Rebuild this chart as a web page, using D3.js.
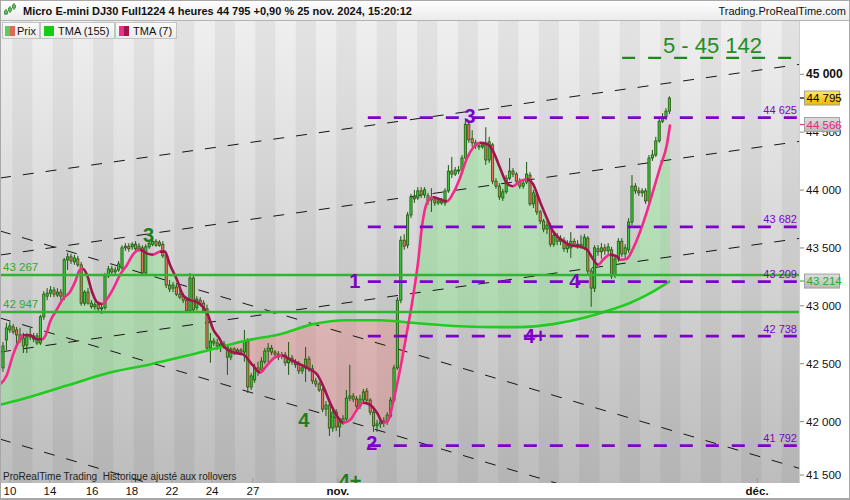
<!DOCTYPE html>
<html lang="fr"><head><meta charset="utf-8">
<script src="https://cdn.jsdelivr.net/npm/d3@7"></script>
<style>
html,body{margin:0;padding:0;background:#fff;}
svg{display:block;font-family:"Liberation Sans",Arial,Helvetica,sans-serif;}
</style></head><body>
<svg id="chart" width="850" height="500"></svg>
<script>
// ---------------- DATA ----------------
const opens=[42464,42705,42792,42818,42792,42749,42722,42662,42731,42740,
42679,42679,42905,43084,43110,43136,43093,43119,43075,43397,
43423,43380,43406,43354,43023,43119,43023,42992,43010,42975,
42983,43258,43319,43293,43310,43327,43501,43515,43510,43532,
43493,43501,43284,43510,43532,43558,43523,43532,43432,43179,
43153,43162,43101,43084,43049,42957,43240,42983,43049,43023,
42975,42635,42696,42679,42653,42670,42644,42557,42627,42601,
42618,42601,42696,42299,42360,42464,42447,42517,42609,42635,
42601,42583,42566,42575,42508,42549,42517,42499,42438,42464,
42540,42456,42351,42325,42273,42108,42143,41945,42082,41954,
41998,42024,42203,42221,42195,42134,42186,42264,42186,42082,
41963,41980,41998,41998,42047,42186,42464,43049,43567,43524,
43785,43941,43932,43993,43958,43950,43932,43915,43889,43906,
43889,43993,44164,44138,44173,44173,44277,44569,44443,44408,
44382,44373,44390,44260,44390,44077,44034,43932,43985,44103,
44164,44138,44077,44034,44069,44129,43880,43959,43811,43732,
43663,43689,43532,43602,43558,43567,43493,43501,43558,43532,
43515,43501,43584,43301,43153,43493,43467,43501,43475,43484,
43266,43406,43558,43449,43484,43724,44034,43993,43976,43993,
43906,44277,44303,44425,44595,44630,44682];
const highs=[42688,42853,42862,42844,42818,42810,42766,42766,42810,42766,
42766,42922,43127,43153,43171,43162,43153,43145,43414,43458,
43449,43440,43432,43380,43136,43153,43049,43032,43023,43010,
43284,43345,43345,43336,43388,43523,43541,43541,43550,43558,
43541,43523,43532,43567,43584,43576,43567,43558,43449,43223,
43206,43188,43136,43110,43066,43284,43266,43084,43075,43049,
43010,42766,42722,42714,42705,42696,42662,42644,42644,42635,
42635,42792,42722,42421,42499,42517,42557,42635,42679,42662,
42618,42609,42601,42601,42688,42575,42540,42522,42491,42644,
42566,42491,42377,42343,42290,42177,42169,42116,42108,42024,
42056,42273,42491,42247,42221,42230,42282,42290,42203,42116,
42015,42030,42038,42082,42212,42491,43075,43602,43619,43811,
43967,44002,44025,44025,44025,43976,44016,43941,43932,43932,
44016,44216,44286,44199,44208,44303,44622,44604,44517,44434,
44408,44408,44543,44460,44408,44103,44060,44011,44129,44277,
44190,44155,44103,44086,44243,44155,44002,43976,43828,43750,
43732,43715,43637,43628,43610,43593,43567,43637,43584,43567,
43610,43619,43602,43327,43524,43524,43541,43532,43541,43510,
43440,43584,43584,43532,43758,44129,44060,44025,44016,44016,
44303,44347,44460,44630,44665,44708,44810];
const lows=[42430,42618,42766,42757,42662,42679,42592,42592,42705,42688,
42662,42662,42879,43049,43075,43075,43075,43049,43049,43310,
43362,43354,43336,43001,43001,43010,42975,42966,42949,42931,
42966,43240,43266,43266,43293,43310,43475,43467,43484,43467,
43467,43266,43266,43493,43515,43510,43510,43414,43153,43119,
43119,43084,43058,43023,42940,42940,42949,42960,43010,42940,
42601,42508,42653,42618,42601,42627,42403,42531,42575,42583,
42583,42517,42247,42273,42334,42395,42430,42499,42491,42575,
42557,42531,42540,42482,42403,42491,42464,42412,42412,42343,
42430,42325,42299,42256,42082,42047,41876,41911,41919,41867,
41972,42006,42177,42169,42108,42108,42169,42160,42056,41911,
41911,41945,41954,41972,42030,42169,42447,43023,43484,43497,
43758,43889,43915,43932,43932,43872,43811,43863,43872,43872,
43863,43976,44103,44121,44138,44155,44260,44408,44373,44356,
44347,44356,44217,44234,44051,44011,43915,43906,43967,44086,
44112,44051,44011,44011,44051,43863,43845,43785,43706,43636,
43619,43510,43510,43524,43524,43467,43458,43414,43510,43493,
43493,43484,43275,42992,43119,43432,43406,43440,43432,43232,
43240,43380,43423,43414,43458,43697,43967,43950,43941,43880,
43872,44251,44286,44408,44578,44604,44656];
const closes=[42653,42809,42827,42775,42749,42705,42653,42731,42749,42714,
42740,42905,43101,43110,43136,43101,43119,43084,43397,43423,
43388,43414,43354,43023,43119,43023,42992,43010,42975,42983,
43258,43319,43293,43310,43362,43501,43515,43493,43532,43493,
43515,43284,43510,43541,43558,43523,43549,43432,43179,43145,
43179,43101,43075,43049,42957,43240,42966,43058,43023,42957,
42635,42696,42679,42653,42670,42653,42557,42627,42601,42618,
42601,42696,42299,42395,42464,42430,42522,42609,42635,42601,
42583,42557,42575,42508,42549,42517,42491,42438,42464,42540,
42456,42351,42325,42273,42108,42143,41945,42082,41954,41998,
42024,42203,42221,42195,42134,42195,42256,42186,42082,41963,
41980,41998,42006,42056,42186,42464,43049,43567,43515,43785,
43941,43924,43993,43958,44002,43906,43915,43889,43906,43889,
43993,44164,44138,44173,44164,44277,44569,44434,44408,44382,
44373,44390,44260,44417,44077,44034,43941,43985,44103,44164,
44138,44077,44034,44060,44138,43880,43976,43811,43732,43663,
43697,43532,43610,43558,43576,43493,43524,43558,43532,43515,
43532,43593,43301,43153,43501,43467,43501,43475,43510,43258,
43406,43558,43449,43501,43724,44034,43993,43976,43993,43906,
44277,44303,44425,44595,44630,44682,44795];

// TMA(7): bar position / value
const tma7Bar=[-0.9,1.2,2.9,5.0,5.9,7.9,10.0,11.5,12.9,13.8,15.9,17.6,19.7,21.2,22.6,23.5,24.7,26.2,27.6,29.1,30.6,32.4,34.4,36.5,38.2,40.3,42.4,44.1,46.2,47.6,49.1,51.2,52.9,55.0,57.1,58.8,60.3,61.8,63.8,64.7,67.6,70.6,73.5,75.6,77.6,80.0,82.1,84.4,87.4,90.3,92.4,94.1,96.2,98.2,100.0,102.1,104.1,105.9,107.9,110.0,111.8,113.2,114.7,116.8,118.8,120.6,122.1,123.3,124.7,126.5,128.5,130.6,132.4,134.4,136.5,138.2,140.3,142.4,144.1,146.2,148.2,150.0,152.1,154.1,155.9,157.9,160.0,161.8,163.8,165.9,167.6,169.7,171.8,173.5,175.0,176.5,178.5,180.6,181.5,183.5,185.3,187.4,189.4,191.2,193.2,195.3,196.2];
const tma7Val=[42320,42407,42572,42711,42746,42746,42711,42711,42772,42859,42972,43059,43120,43207,43311,43320,43268,43120,43033,43016,43059,43146,43268,43355,43442,43485,43451,43442,43468,43468,43355,43224,43094,43050,43033,42990,42920,42798,42711,42659,42598,42581,42485,42424,42485,42555,42572,42537,42494,42450,42407,42311,42163,42050,41989,42015,42102,42163,42146,42076,41989,42007,42163,42450,42772,43077,43381,43700,43890,43938,43920,43903,43973,44103,44277,44364,44408,44399,44338,44190,44060,44033,44077,44094,44051,43903,43755,43642,43581,43538,43520,43512,43485,43407,43355,43398,43442,43425,43398,43407,43494,43642,43816,43990,44190,44399,44566];
// TMA(155)
const tma155Bar=[-0.9,5.0,18.8,31.5,43.2,52.1,63.8,71.8,81.5,91.2,101.2,110.9,121.8,134.4,146.2,152.1,161.8,171.8,179.4,184.4,189.4,196.2];
const tma155Val=[42146,42189,42311,42424,42494,42555,42642,42702,42755,42842,42876,42876,42850,42824,42816,42816,42842,42903,42972,43024,43094,43214];

// axes
const yTicks=[41500,42000,42500,43000,43500,44000,44500,45000];
const xTickBars=[2.06,13.8,26.2,37.9,49.7,61.5,73.5,98.5,221.8];
const xTickLabels=['10','14','16','18','22','24','27','nov.','déc.'];
const xTickBold=[false,false,false,false,false,false,false,true,true];

// horizontal levels
const levelValues=[44625,43682,43209,42738,41792];
const levelStartBar=107.3;
const supportValues=[43267,42947];
const targetValue=45142, targetStartBar=182.1, targetLabel='5 - 45 142';

// trend lines (bar, price) -> (bar, price)
const trendBar0=[-0.882,-0.882,-0.882,-0.882,-0.882,-0.882];
const trendPrice0=[44104,43439,42601,43647,42895,41849];
const trendBar1=[234.12,234.12,234.12,234.12,234.12,234.12];
const trendPrice1=[45085,44420,43582,41597,40846,39803];

// wave annotations
const purpleMarkText=['3','1','2','4','4+'];
const purpleMarkBar=[137.35,103.5,108.5,168.2,156.5];
const purpleMarkPrice=[44640,43215,41815,43215,42740];
const greenMarkText=['3','4','4+'];
const greenMarkBar=[42.8,88.5,102.1];
const greenMarkPrice=[43616,42014,41487];

const lastPrice=44795, tma7Last=44566, tma155Last=43214;
const titleText='Micro E-mini DJ30 Full1224 4 heures 44 795 +0,90 % 25 nov. 2024, 15:20:12';
const siteText='Trading.ProRealTime.com';
const footText='ProRealTime Trading  Historique ajusté aux rollovers';
const legendNames=['Prix','TMA (155)','TMA (7)'];

// ---------------- DRAW ----------------
const PINK='#f42a8b', MAROON='#a3124f', PURPLE='#7f00c8', DKGREEN='#1e7e1e';
const svg=d3.select('#chart');
const P={l:0,t:21,r:799,b:483};
const x=d3.scaleLinear().domain([-0.882,234.12]).range([P.l,P.r]);
const y=d3.scaleLinear().domain([41500,45000]).range([479.5,74.3]);
const fmt=v=>d3.format(',')(v).replace(/,/g,' ');
const defs=svg.append('defs');
function vGrad(id,stops){const g=defs.append('linearGradient').attr('id',id).attr('x1',0).attr('y1',0).attr('x2',0).attr('y2',1);stops.forEach(([o,c])=>g.append('stop').attr('offset',o).attr('stop-color',c));}
vGrad('plotBg',[[0,'#efefef'],[1,'#bdbdbd']]);
vGrad('hdrBg',[[0,'#ffffff'],[1,'#ebebeb']]);
vGrad('legBg',[[0,'#fbfbfb'],[1,'#ebebeb']]);
vGrad('goldBg',[[0,'#ffe866'],[1,'#f4b400']]);
vGrad('grayBg',[[0,'#dedede'],[1,'#b9b9b9']]);
defs.append('clipPath').attr('id','plotClip').append('rect').attr('x',P.l).attr('y',P.t).attr('width',P.r-P.l).attr('height',P.b-P.t);

svg.append('rect').attr('width',850).attr('height',500).attr('fill','#fff');
const plot=svg.append('g').attr('clip-path','url(#plotClip)');
plot.append('rect').attr('x',P.l).attr('y',P.t).attr('width',P.r-P.l).attr('height',P.b-P.t).attr('fill','url(#plotBg)');
// day stripes
const dayStartBar=2.7, barsPerDay=5.956;
for(let k=-2;k<42;k++){
  if(k%2!==0) continue;
  const x0=x(dayStartBar+k*barsPerDay), x1=x(dayStartBar+(k+1)*barsPerDay);
  plot.append('rect').attr('x',x0).attr('y',P.t).attr('width',x1-x0).attr('height',P.b-P.t).attr('fill','rgba(0,0,0,0.048)');
}

// fills between TMA7 and TMA155
const t7=tma7Bar.map((b,i)=>[x(b),y(tma7Val[i])]);
const t155=tma155Bar.map((b,i)=>[x(b),y(tma155Val[i])]);
const curve=d3.curveMonotoneX;
const belowA=d3.area().x(d=>d[0]).y0(P.b).y1(d=>d[1]).curve(curve);
const aboveA=d3.area().x(d=>d[0]).y0(P.t).y1(d=>d[1]).curve(curve);
defs.append('clipPath').attr('id','below7').append('path').attr('d',belowA(t7));
defs.append('clipPath').attr('id','above7').append('path').attr('d',aboveA(t7));
plot.append('g').attr('clip-path','url(#below7)').append('path').attr('d',aboveA(t155)).attr('fill','rgba(135,232,135,0.42)');
plot.append('g').attr('clip-path','url(#above7)').append('path').attr('d',belowA(t155)).attr('fill','rgba(255,120,120,0.30)');

// trend lines
trendBar0.forEach((b,i)=>{
  plot.append('line').attr('x1',x(b)).attr('y1',y(trendPrice0[i])).attr('x2',x(trendBar1[i])).attr('y2',y(trendPrice1[i]))
   .attr('stroke','#151515').attr('stroke-width',1).attr('stroke-dasharray','11,12');
});

// candles
const n=Math.min(opens.length,highs.length,lows.length,closes.length);
const cg=plot.append('g');
const bw=2.2;
for(let i=0;i<n;i++){
  const up=closes[i]>=opens[i];
  const cx=x(i);
  cg.append('line').attr('x1',cx).attr('x2',cx).attr('y1',y(highs[i])).attr('y2',y(lows[i])).attr('stroke','#1d5a0c').attr('stroke-width',1);
  const yt=y(Math.max(opens[i],closes[i])), yb=y(Math.min(opens[i],closes[i]));
  cg.append('rect').attr('x',cx-bw/2).attr('y',yt).attr('width',bw).attr('height',Math.max(0.8,yb-yt))
    .attr('fill',up?'#3cc83c':'#e8735c').attr('stroke','#1d5a0c').attr('stroke-width',0.8);
}

// TMA155
plot.append('path').attr('d',d3.line().curve(curve)(t155)).attr('fill','none').attr('stroke','#1fcc1f').attr('stroke-width',2.6);
// TMA7 coloured by direction
const tg=defs.append('linearGradient').attr('id','tmaGrad').attr('gradientUnits','userSpaceOnUse').attr('x1',0).attr('x2',P.r).attr('y1',0).attr('y2',0);
for(let k=0;k<tma7Bar.length-1;k++){
  const col=tma7Val[k+1]>tma7Val[k]?PINK:MAROON;
  tg.append('stop').attr('offset',Math.max(0,x(tma7Bar[k])/P.r)).attr('stop-color',col);
  tg.append('stop').attr('offset',Math.max(0,x(tma7Bar[k+1])/P.r)).attr('stop-color',col);
}
plot.append('path').attr('d',d3.line().curve(curve)(t7)).attr('fill','none').attr('stroke','url(#tmaGrad)').attr('stroke-width',2.6);

// support lines (green)
supportValues.forEach(v=>{
  plot.append('line').attr('x1',P.l).attr('x2',P.r).attr('y1',y(v)).attr('y2',y(v)).attr('stroke','#2fb52f').attr('stroke-width',2.6);
  plot.append('text').attr('x',3).attr('y',y(v)-3.5).attr('font-size',11.5).attr('fill','#2faa2f').text(fmt(v));
});
// purple levels
levelValues.forEach(v=>{
  plot.append('line').attr('x1',x(levelStartBar)).attr('x2',P.r).attr('y1',y(v)).attr('y2',y(v)).attr('stroke',PURPLE).attr('stroke-width',2.7).attr('stroke-dasharray','13,13');
  plot.append('text').attr('x',797).attr('y',y(v)-3.5).attr('text-anchor','end').attr('font-size',11).attr('fill',PURPLE).text(fmt(v));
});
// target
plot.append('line').attr('x1',x(targetStartBar)).attr('x2',P.r).attr('y1',y(targetValue)).attr('y2',y(targetValue)).attr('stroke','#1a8c1a').attr('stroke-width',2.2).attr('stroke-dasharray','13,13');
plot.append('text').attr('x',663).attr('y',y(targetValue)-5).attr('font-size',22).attr('fill','#1f8f1f').text(targetLabel);

// annotations
purpleMarkText.forEach((t,i)=>{
  plot.append('text').attr('x',x(purpleMarkBar[i])).attr('y',y(purpleMarkPrice[i])).attr('dy','0.36em').attr('text-anchor','middle')
    .attr('font-size',20).attr('font-weight','bold').attr('fill',PURPLE).text(t);
});
greenMarkText.forEach((t,i)=>{
  plot.append('text').attr('x',x(greenMarkBar[i])).attr('y',y(greenMarkPrice[i])).attr('dy','0.36em').attr('text-anchor','middle')
    .attr('font-size',20).attr('font-weight','bold').attr('fill',DKGREEN).text(t);
});
// footer text inside plot
plot.append('text').attr('x',3).attr('y',480).attr('font-size',10).attr('fill','#222').attr('xml:space','preserve').text(footText);
// x ticks (small marks at bottom of plot)
xTickBars.forEach(b=>plot.append('line').attr('x1',x(b)).attr('x2',x(b)).attr('y1',P.b-5).attr('y2',P.b).attr('stroke','#999'));

// ---- right axis ----
const ax=svg.append('g');
ax.append('line').attr('x1',P.r+0.5).attr('x2',P.r+0.5).attr('y1',P.t).attr('y2',P.b).attr('stroke','#d0d0d0');
yTicks.forEach(v=>{
  const ly=Math.min(y(v),P.b-8);
  ax.append('line').attr('x1',P.r+1).attr('x2',P.r+5).attr('y1',ly).attr('y2',ly).attr('stroke','#888');
  ax.append('text').attr('x',806).attr('y',ly+4).attr('font-size',v===45000?12:11.5).attr('font-weight',v===45000?'bold':'normal').attr('fill','#111').text(fmt(v));
});
function priceBox(v,fill,txtCol,tickCol){
  const yy=y(v);
  ax.append('line').attr('x1',P.r+1).attr('x2',P.r+5).attr('y1',yy).attr('y2',yy).attr('stroke',tickCol).attr('stroke-width',1.2);
  ax.append('rect').attr('x',804.5).attr('y',yy-7).attr('width',35).attr('height',14).attr('fill',fill).attr('stroke','#a0a0a0');
  ax.append('text').attr('x',806.5).attr('y',yy+4).attr('font-size',11.5).attr('fill',txtCol).text(fmt(v));
}
priceBox(lastPrice,'url(#goldBg)','#000','#000');
priceBox(tma7Last,'url(#grayBg)','#e5277f',PINK);
priceBox(tma155Last,'url(#grayBg)','#1fae1f','#1fcc1f');

// ---- bottom axis ----
xTickBars.forEach((b,i)=>{
  svg.append('text').attr('x',x(b)).attr('y',495).attr('text-anchor','middle').attr('font-size',11.5)
    .attr('font-weight',xTickBold[i]?'bold':'normal').attr('fill','#111').text(xTickLabels[i]);
});

// ---- header ----
svg.append('rect').attr('x',0).attr('y',0).attr('width',850).attr('height',20.5).attr('fill','url(#hdrBg)');
svg.append('line').attr('x1',0).attr('x2',850).attr('y1',20.5).attr('y2',20.5).attr('stroke','#b4b4b4');
// icon
const ic=svg.append('g');
[[6,9,15,11,14],[10,6,13,8,11],[14,3,10,5,8]].forEach(([cx,h,l,t,b])=>{
  ic.append('line').attr('x1',cx).attr('x2',cx).attr('y1',h).attr('y2',l).attr('stroke','#2e7d2e');
  ic.append('rect').attr('x',cx-1.5).attr('y',t).attr('width',3).attr('height',b-t).attr('fill','#5fc85f').attr('stroke','#2e7d2e').attr('stroke-width',0.7);
});
svg.append('text').attr('x',23).attr('y',15).attr('font-size',11).attr('font-weight','bold').attr('fill','#111').text(titleText);
svg.append('text').attr('x',846).attr('y',15).attr('text-anchor','end').attr('font-size',11).attr('fill','#111').text(siteText);

// ---- legend ----
const lg=svg.append('g');
const boxes=[{x:2.5,w:37,tx:17},{x:40.5,w:74,tx:58},{x:115.5,w:61,tx:133}];
const sw=[[ '#5ccc5c','#e0685a'],['#14cc14','#14cc14'],[PINK,MAROON]];
const swx=[5,44,119];
boxes.forEach((bx,i)=>{
  lg.append('rect').attr('x',bx.x).attr('y',22.5).attr('width',bx.w).attr('height',16).attr('fill','url(#legBg)').attr('stroke','#c4c4c4');
  lg.append('rect').attr('x',swx[i]).attr('y',26).attr('width',5).attr('height',10).attr('fill',sw[i][0]);
  lg.append('rect').attr('x',swx[i]+5).attr('y',26).attr('width',5).attr('height',10).attr('fill',sw[i][1]);
  lg.append('text').attr('x',bx.tx).attr('y',35).attr('font-size',11).attr('fill','#111').text(legendNames[i]);
});

// frame
svg.append('line').attr('x1',0).attr('x2',850).attr('y1',498.5).attr('y2',498.5).attr('stroke','#a8a8a8');
svg.append('rect').attr('x',0.5).attr('y',0.5).attr('width',849).attr('height',499).attr('fill','none').attr('stroke','#a8a8a8');
</script>
</body></html>
